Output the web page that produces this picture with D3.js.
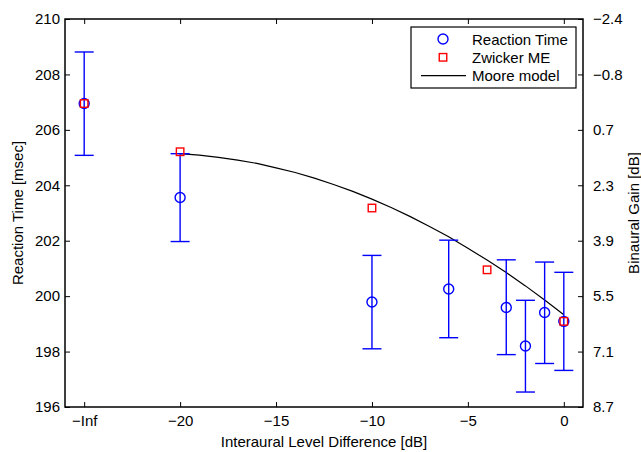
<!DOCTYPE html>
<html lang="en">
<head>
    <meta charset="UTF-8">
    <title>Reaction Time vs Interaural Level Difference</title>
    <script src="https://d3js.org/d3.v7.min.js"></script>
    <style>
        body {
            margin: 0;
            background: #ffffff;
        }

        svg text {
            font-family: 'Liberation Sans', Arial, Helvetica, sans-serif;
            font-size: 15px;
            fill: #000;
        }
    </style>
</head>
<body>
    <svg id="chart" width="641" height="452"></svg>

    <script>
        // -25 is the slot used for the "-Inf" condition
        const rtIld = [-25, -20, -10, -6, -3, -2, -1, 0];
        const rtMean = [206.95, 203.56, 199.79, 200.26, 199.59, 198.20, 199.41, 199.09];
        const rtUpper = [208.81, 205.14, 201.47, 202.02, 201.31, 199.85, 201.23, 200.86];
        const rtLower = [205.08, 201.97, 198.10, 198.50, 197.89, 196.54, 197.57, 197.32];

        const zwickerIld = [-25, -20, -10, -4, 0];
        const zwickerRt = [206.95, 205.21, 203.18, 200.95, 199.09];

        const mooreIld = [-20, -19, -18, -17, -16, -15, -14, -13, -12, -11, -10,
                          -9, -8, -7, -6, -5, -4, -3, -2, -1, 0];
        const mooreRt = [205.14, 205.09, 205.01, 204.91, 204.79, 204.63, 204.46, 204.26, 204.03, 203.78, 203.50,
                         203.20, 202.87, 202.51, 202.14, 201.73, 201.30, 200.85, 200.37, 199.86, 199.33];

        const xTickValues = [-25, -20, -15, -10, -5, 0];
        const xTickLabels = ['\u2212Inf', '\u221220', '\u221215', '\u221210', '\u22125', '0'];
        const yTickValues = [196, 198, 200, 202, 204, 206, 208, 210];
        // binaural gain labels, paired with yTickValues (bottom to top)
        const gainTickLabels = ['8.7', '7.1', '5.5', '3.9', '2.3', '0.7', '\u22120.8', '\u22122.4'];

        const plot = { left: 65, right: 583, top: 19, bottom: 407 };

        const svg = d3.select('#chart');

        const x = d3.scaleLinear().domain([-26, 1]).range([plot.left, plot.right]);
        const y = d3.scaleLinear().domain([196, 210]).range([plot.bottom, plot.top]);

        const tickLen = 5;

        // bottom axis
        svg.append('g')
            .attr('transform', `translate(0,${plot.bottom})`)
            .call(d3.axisBottom(x)
                .tickValues(xTickValues)
                .tickFormat((d, i) => xTickLabels[i])
                .tickSizeInner(-tickLen)
                .tickSizeOuter(0)
                .tickPadding(8))
            .call(g => g.select('.domain').remove());

        // top ticks (box)
        svg.append('g')
            .attr('transform', `translate(0,${plot.top})`)
            .call(d3.axisTop(x)
                .tickValues(xTickValues)
                .tickFormat('')
                .tickSizeInner(-tickLen)
                .tickSizeOuter(0))
            .call(g => g.select('.domain').remove());

        // left axis
        svg.append('g')
            .attr('transform', `translate(${plot.left},0)`)
            .call(d3.axisLeft(y)
                .tickValues(yTickValues)
                .tickFormat(d3.format('d'))
                .tickSizeInner(-tickLen)
                .tickSizeOuter(0)
                .tickPadding(5))
            .call(g => g.select('.domain').remove());

        // right axis (binaural gain)
        svg.append('g')
            .attr('transform', `translate(${plot.right},0)`)
            .call(d3.axisRight(y)
                .tickValues(yTickValues)
                .tickFormat((d, i) => gainTickLabels[i])
                .tickSizeInner(-tickLen)
                .tickSizeOuter(0)
                .tickPadding(10))
            .call(g => g.select('.domain').remove());

        svg.selectAll('.tick line').attr('stroke', '#000').attr('stroke-width', 1);
        svg.selectAll('.tick text').style('font-size', '15px');

        // frame
        svg.append('rect')
            .attr('x', plot.left)
            .attr('y', plot.top)
            .attr('width', plot.right - plot.left)
            .attr('height', plot.bottom - plot.top)
            .attr('fill', 'none')
            .attr('stroke', '#000')
            .attr('stroke-width', 1.5);

        // Moore model line
        const line = d3.line()
            .x((d, i) => x(mooreIld[i]))
            .y(d => y(d));

        svg.append('path')
            .datum(mooreRt)
            .attr('d', line)
            .attr('fill', 'none')
            .attr('stroke', '#000')
            .attr('stroke-width', 1.2);

        // error bars
        const capHalf = 9.5;
        const err = svg.append('g')
            .attr('stroke', '#0000ff')
            .attr('stroke-width', 1.4)
            .attr('fill', 'none');

        rtIld.forEach((ild, i) => {
            const cx = x(ild);
            err.append('line')
                .attr('x1', cx).attr('x2', cx)
                .attr('y1', y(rtUpper[i])).attr('y2', y(rtLower[i]));
            err.append('line')
                .attr('x1', cx - capHalf).attr('x2', cx + capHalf)
                .attr('y1', y(rtUpper[i])).attr('y2', y(rtUpper[i]));
            err.append('line')
                .attr('x1', cx - capHalf).attr('x2', cx + capHalf)
                .attr('y1', y(rtLower[i])).attr('y2', y(rtLower[i]));
        });

        // reaction time circles
        svg.append('g')
            .selectAll('circle')
            .data(rtMean)
            .join('circle')
            .attr('cx', (d, i) => x(rtIld[i]))
            .attr('cy', d => y(d))
            .attr('r', 5)
            .attr('fill', 'none')
            .attr('stroke', '#0000ff')
            .attr('stroke-width', 1.4);

        // zwicker squares
        const sq = 7.5;
        svg.append('g')
            .selectAll('rect')
            .data(zwickerRt)
            .join('rect')
            .attr('x', (d, i) => x(zwickerIld[i]) - sq / 2)
            .attr('y', d => y(d) - sq / 2)
            .attr('width', sq)
            .attr('height', sq)
            .attr('fill', 'none')
            .attr('stroke', '#ff0000')
            .attr('stroke-width', 1.4);

        // axis labels
        svg.append('text')
            .attr('transform', `translate(17,${(plot.top + plot.bottom) / 2}) rotate(-90)`)
            .attr('text-anchor', 'middle')
            .attr('dominant-baseline', 'central')
            .text('Reaction Time [msec]');

        svg.append('text')
            .attr('transform', `translate(633,${(plot.top + plot.bottom) / 2}) rotate(-90)`)
            .attr('text-anchor', 'middle')
            .attr('dominant-baseline', 'central')
            .text('Binaural Gain [dB]');

        svg.append('text')
            .attr('x', (plot.left + plot.right) / 2)
            .attr('y', 441)
            .attr('text-anchor', 'middle')
            .attr('dominant-baseline', 'central')
            .text('Interaural Level Difference [dB]');

        // legend
        const legend = svg.append('g');
        legend.append('rect')
            .attr('x', 411).attr('y', 27)
            .attr('width', 165).attr('height', 61)
            .attr('fill', '#fff')
            .attr('stroke', '#000')
            .attr('stroke-width', 1.2);

        const legendItems = [
            { label: 'Reaction Time', type: 'circle' },
            { label: 'Zwicker ME', type: 'square' },
            { label: 'Moore model', type: 'line' }
        ];

        legendItems.forEach((item, i) => {
            const ly = 39 + i * 18.3;
            if (item.type === 'circle') {
                legend.append('circle')
                    .attr('cx', 443).attr('cy', ly).attr('r', 5)
                    .attr('fill', 'none').attr('stroke', '#0000ff').attr('stroke-width', 1.4);
            } else if (item.type === 'square') {
                legend.append('rect')
                    .attr('x', 443 - sq / 2).attr('y', ly - sq / 2)
                    .attr('width', sq).attr('height', sq)
                    .attr('fill', 'none').attr('stroke', '#ff0000').attr('stroke-width', 1.4);
            } else {
                legend.append('line')
                    .attr('x1', 421).attr('x2', 466)
                    .attr('y1', ly).attr('y2', ly)
                    .attr('stroke', '#000').attr('stroke-width', 1.2);
            }
            legend.append('text')
                .attr('x', 472)
                .attr('y', ly)
                .attr('dominant-baseline', 'central')
                .text(item.label);
        });
    </script>
</body>
</html>
